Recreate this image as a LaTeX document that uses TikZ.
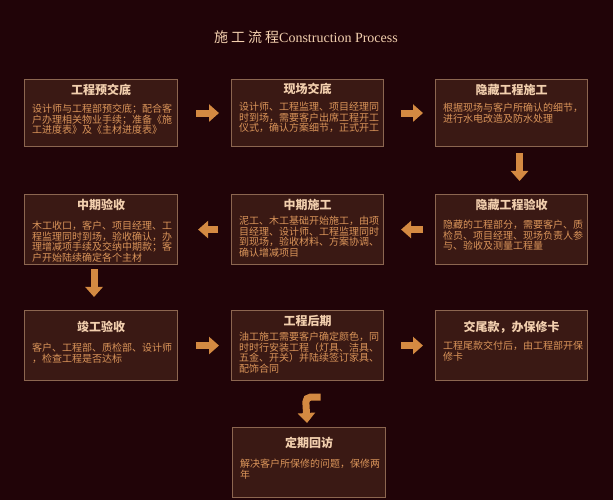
\documentclass[tikz,border=0pt]{standalone}
\usepackage{fontspec}
\setmainfont{Liberation Serif}
\newfontfamily\cjk{Noto Sans CJK SC}
\usetikzlibrary{arrows.meta}
\definecolor{bgc}{HTML}{210408}
\definecolor{boxfill}{HTML}{3A1914}
\definecolor{boxline}{HTML}{8C6650}
\definecolor{ttlc}{HTML}{F2CFAE}
\definecolor{bodyc}{HTML}{DB955A}
\definecolor{arrc}{HTML}{D48A42}
\tikzset{
  box/.style={draw=boxline, fill=boxfill, line width=1.1pt, anchor=north west, inner sep=0pt},
  ttl/.style={text=ttlc, font=\cjk\bfseries\fontsize{12}{12}\selectfont, inner sep=0pt},
  body/.style={text=bodyc, font=\cjk\fontsize{10}{10.6}\selectfont, align=left, anchor=north west, inner sep=0pt},
  blk/.style={draw=arrc, line width=7pt, -{Triangle[width=17pt,length=10pt]}},
}
\begin{document}
\begin{tikzpicture}[x=1pt,y=1pt]
\useasboundingbox (0,0) rectangle (613,500);
\fill[bgc] (0,0) rectangle (613,500);

\node[text=ttlc, font=\fontsize{14}{15}\selectfont, inner sep=0pt] (title) at (306,463)
  {{\cjk 施\hspace{3pt}工\hspace{3pt}流\hspace{3pt}程}Construction Process};

% row 1
\node[box, minimum width=153pt, minimum height=67pt] (b1) at (24,421) {};
\node[ttl] (t1) at ([yshift=-11pt]b1.north) {工程预交底};
\node[body] (d1) at ([xshift=8pt,yshift=-25pt]b1.north west) {设计师与工程部预交底；配合客\\户办理相关物业手续；准备《施\\工进度表》及《主材进度表》};

\node[box, minimum width=152pt, minimum height=67pt] (b2) at (231,421) {};
\node[ttl] (t2) at ([yshift=-10pt]b2.north) {现场交底};
\node[body] (d2) at ([xshift=8pt,yshift=-23pt]b2.north west) {设计师、工程监理、项目经理同\\时到场，需要客户出席工程开工\\仪式，确认方案细节，正式开工};

\node[box, minimum width=152pt, minimum height=67pt] (b3) at (435,421) {};
\node[ttl] (t3) at ([yshift=-11pt]b3.north) {隐藏工程施工};
\node[body] (d3) at ([xshift=8pt,yshift=-24pt]b3.north west) {根据现场与客户所确认的细节，\\进行水电改造及防水处理};

% row 2
\node[box, minimum width=153pt, minimum height=70pt] (b4) at (24,306) {};
\node[ttl] (t4) at ([yshift=-11pt]b4.north) {中期验收};
\node[body] (d4) at ([xshift=8pt,yshift=-27pt]b4.north west) {木工收口，客户、项目经理、工\\程监理同时到场，验收确认，办\\理增减项手续及交纳中期款；客\\户开始陆续确定各个主材};

\node[box, minimum width=152pt, minimum height=70pt] (b5) at (231,306) {};
\node[ttl] (t5) at ([yshift=-11pt]b5.north) {中期施工};
\node[body] (d5) at ([xshift=8pt,yshift=-22pt]b5.north west) {泥工、木工基础开始施工，由项\\目经理、设计师、工程监理同时\\到现场，验收材料、方案协调、\\确认增减项目};

\node[box, minimum width=152pt, minimum height=70pt] (b6) at (435,306) {};
\node[ttl] (t6) at ([yshift=-11pt]b6.north) {隐藏工程验收};
\node[body] (d6) at ([xshift=8pt,yshift=-26pt]b6.north west) {隐藏的工程部分，需要客户、质\\检员、项目经理、现场负责人参\\与、验收及测量工程量};

% row 3
\node[box, minimum width=153pt, minimum height=70pt] (b7) at (24,190) {};
\node[ttl] (t7) at ([yshift=-17pt]b7.north) {竣工验收};
\node[body] (d7) at ([xshift=8pt,yshift=-33pt]b7.north west) {客户、工程部、质检部、设计师\\，检查工程是否达标};

\node[box, minimum width=152pt, minimum height=70pt] (b8) at (231,190) {};
\node[ttl] (t8) at ([yshift=-11pt]b8.north) {工程后期};
\node[body] (d8) at ([xshift=8pt,yshift=-22pt]b8.north west) {油工施工需要客户确定颜色，同\\时时行安装工程（灯具、洁具、\\五金、开关）并陆续签订家具、\\配饰合同};

\node[box, minimum width=152pt, minimum height=70pt] (b9) at (435,190) {};
\node[ttl] (t9) at ([yshift=-17pt]b9.north) {交尾款，办保修卡};
\node[body] (d9) at ([xshift=8pt,yshift=-31pt]b9.north west) {工程尾款交付后，由工程部开保\\修卡};

% row 4
\node[box, minimum width=153pt, minimum height=70pt] (b10) at (232,73) {};
\node[ttl] (t10) at ([yshift=-16pt]b10.north) {定期回访};
\node[body] (d10) at ([xshift=8pt,yshift=-32pt]b10.north west) {解决客户所保修的问题，保修两\\年};

% arrows
\draw[blk] ([xshift=18pt]b1.east) -- ([xshift=-12pt]b2.west);
\draw[blk] ([xshift=17pt]b2.east) -- ([xshift=-12pt]b3.west);
\draw[blk] ([xshift=8pt,yshift=-6pt]b3.south) -- ([xshift=8pt,yshift=13pt]b6.north);
\draw[blk] ([xshift=-12pt]b6.west) -- ([xshift=17pt]b5.east);
\draw[blk] ([xshift=-13pt]b5.west) -- ([xshift=20pt]b4.east);
\draw[blk] ([xshift=-7pt,yshift=-4pt]b4.south) -- ([xshift=-7pt,yshift=13pt]b7.north);
\draw[blk] ([xshift=18pt]b7.east) -- ([xshift=-12pt]b8.west);
\draw[blk] ([xshift=17pt]b8.east) -- ([xshift=-12pt]b9.west);
\coordinate (bendstart) at ([xshift=13pt,yshift=-16pt]b8.south);
\draw[blk, rounded corners=5pt] (bendstart) -- ([xshift=-2pt,yshift=-16pt]b8.south) -- ([xshift=-2pt,yshift=4pt]b10.north);
\end{tikzpicture}
\end{document}
